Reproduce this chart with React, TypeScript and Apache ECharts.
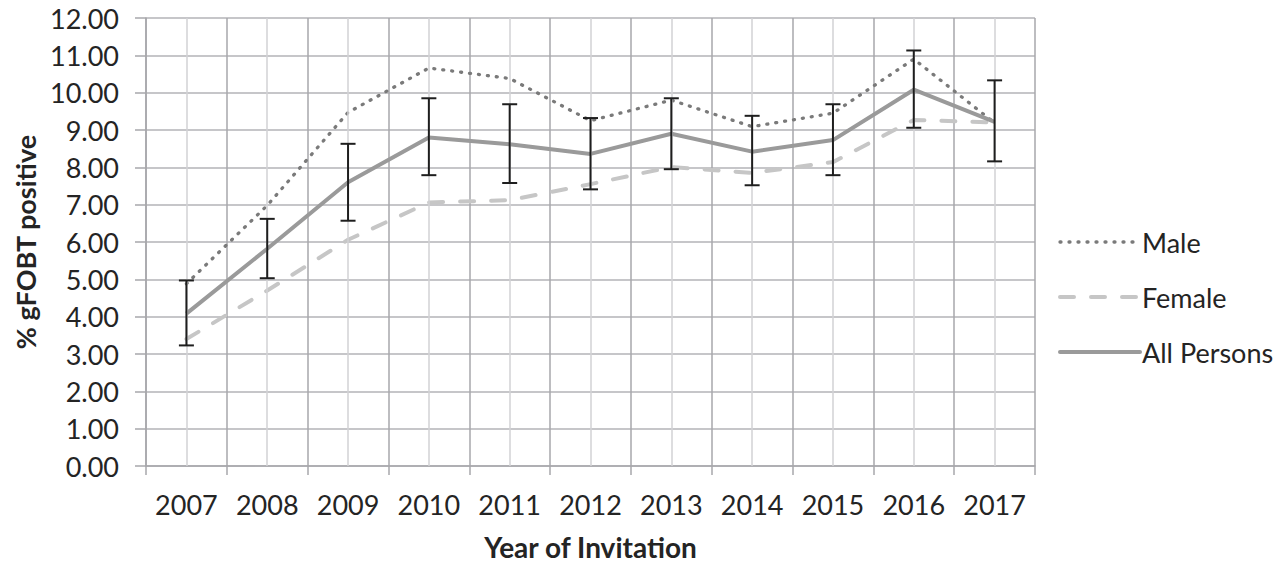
import React, { useEffect, useRef } from "react";
import * as echarts from "echarts";

// Year of invitation (category axis)
const years = ["2007", "2008", "2009", "2010", "2011", "2012", "2013", "2014", "2015", "2016", "2017"];

// % gFOBT positive by sex
const male = [4.88, 6.98, 9.47, 10.66, 10.38, 9.25, 9.8, 9.09, 9.45, 10.9, 9.19];
const female = [3.4, 4.7, 6.06, 7.06, 7.12, 7.55, 8.01, 7.85, 8.14, 9.27, 9.2];
const allPersons = [4.08, 5.82, 7.6, 8.8, 8.62, 8.36, 8.9, 8.42, 8.73, 10.08, 9.22];

// Error bar bounds for All Persons
const ciLow = [3.23, 5.03, 6.57, 7.79, 7.58, 7.41, 7.95, 7.52, 7.79, 9.06, 8.16];
const ciHigh = [4.97, 6.62, 8.63, 9.85, 9.69, 9.32, 9.85, 9.38, 9.69, 11.13, 10.33];

const FONT = "Lato, 'Open Sans', sans-serif";
const TEXT = "#242424";
const GRID_DARK = "#a7a7ab";
const GRID_LIGHT = "#d2d2d4";
const GRID_H = "#b3b3b7";

export default function App() {
  const ref = useRef<HTMLDivElement>(null);

  useEffect(() => {
    if (!ref.current) return;
    const chart = echarts.init(ref.current, null, { renderer: "svg" });

    const errorData = years.map((_, i) => [i, ciLow[i], ciHigh[i]]);

    chart.setOption({
      animation: false,
      backgroundColor: "#ffffff",
      textStyle: { fontFamily: FONT },
      grid: { left: 146, width: 889, top: 18, height: 452, containLabel: false },
      legend: {
        data: ["Male", "Female", "All Persons"],
        orient: "vertical",
        left: 1053,
        top: 222,
        itemWidth: 80,
        itemHeight: 14,
        itemGap: 25,
        selectedMode: false,
        itemStyle: { opacity: 0 },
        lineStyle: { width: "inherit", type: "inherit", cap: "round" },
        textStyle: { fontFamily: FONT, fontSize: 27, color: TEXT, lineHeight: 30, padding: [0, 0, 0, -3] },
      },
      xAxis: {
        type: "category",
        data: years,
        boundaryGap: true,
        name: "Year of Invitation",
        nameLocation: "middle",
        nameGap: 67,
        nameTextStyle: { fontFamily: FONT, fontSize: 28, fontWeight: "bold", color: TEXT },
        axisLine: { lineStyle: { color: GRID_DARK, width: 1.5 } },
        axisTick: { show: true, length: 9, lineStyle: { color: GRID_DARK, width: 1.5 } },
        axisLabel: { fontFamily: FONT, fontSize: 27, color: TEXT, margin: 25, interval: 0, hideOverlap: false },
        splitLine: { show: true, lineStyle: { color: GRID_DARK, width: 1.5 } },
      },
      yAxis: {
        type: "value",
        min: 0,
        max: 12,
        interval: 1,
        name: "% gFOBT positive",
        nameLocation: "middle",
        nameGap: 104,
        nameRotate: 90,
        nameTextStyle: { fontFamily: FONT, fontSize: 27, fontWeight: "bold", color: TEXT },
        axisLine: { show: true, lineStyle: { color: GRID_DARK, width: 1.5 } },
        axisTick: { show: true, length: 11, lineStyle: { color: GRID_DARK, width: 1.5 } },
        axisLabel: { fontFamily: FONT, fontSize: 27, color: TEXT, margin: 27, formatter: (v: number) => v.toFixed(2) },
        splitLine: { show: true, lineStyle: { color: GRID_H, width: 1.5 } },
      },
      series: [
        {
          // light vertical guides through each category centre
          name: "guides",
          type: "line",
          data: [],
          z: 1,
          silent: true,
          markLine: {
            silent: true,
            symbol: "none",
            label: { show: false },
            lineStyle: { color: GRID_LIGHT, width: 1.5, type: "solid" },
            data: years.map((y) => ({ xAxis: y })),
          },
        },
        {
          name: "Male",
          type: "line",
          data: male,
          z: 3,
          symbol: "none",
          color: "#7a7a7a",
          lineStyle: { color: "#7a7a7a", width: 3.3, type: [1, 8], cap: "round" },
        },
        {
          name: "Female",
          type: "line",
          data: female,
          z: 3,
          symbol: "none",
          color: "#c6c6c6",
          lineStyle: { color: "#c6c6c6", width: 4, type: [14, 17], cap: "round" },
        },
        {
          name: "All Persons",
          type: "line",
          data: allPersons,
          z: 4,
          symbol: "none",
          color: "#9a9a9a",
          lineStyle: { color: "#9a9a9a", width: 4 },
        },
        {
          name: "error",
          type: "custom",
          z: 5,
          silent: true,
          data: errorData,
          renderItem: (params: any, api: any) => {
            const idx = api.value(0);
            const lo = api.coord([idx, api.value(1)]);
            const hi = api.coord([idx, api.value(2)]);
            const half = 7.5;
            const style = { stroke: "#1e1e1e", lineWidth: 2 };
            return {
              type: "group",
              children: [
                { type: "line", shape: { x1: lo[0], y1: lo[1], x2: hi[0], y2: hi[1] }, style },
                { type: "line", shape: { x1: hi[0] - half, y1: hi[1], x2: hi[0] + half, y2: hi[1] }, style },
                { type: "line", shape: { x1: lo[0] - half, y1: lo[1], x2: lo[0] + half, y2: lo[1] }, style },
              ],
            };
          },
        },
      ],
    });

    return () => chart.dispose();
  }, []);

  return (
    <div
      ref={ref}
      style={{ position: "fixed", left: 0, top: 0, width: 1280, height: 566, background: "#fff" }}
    />
  );
}
